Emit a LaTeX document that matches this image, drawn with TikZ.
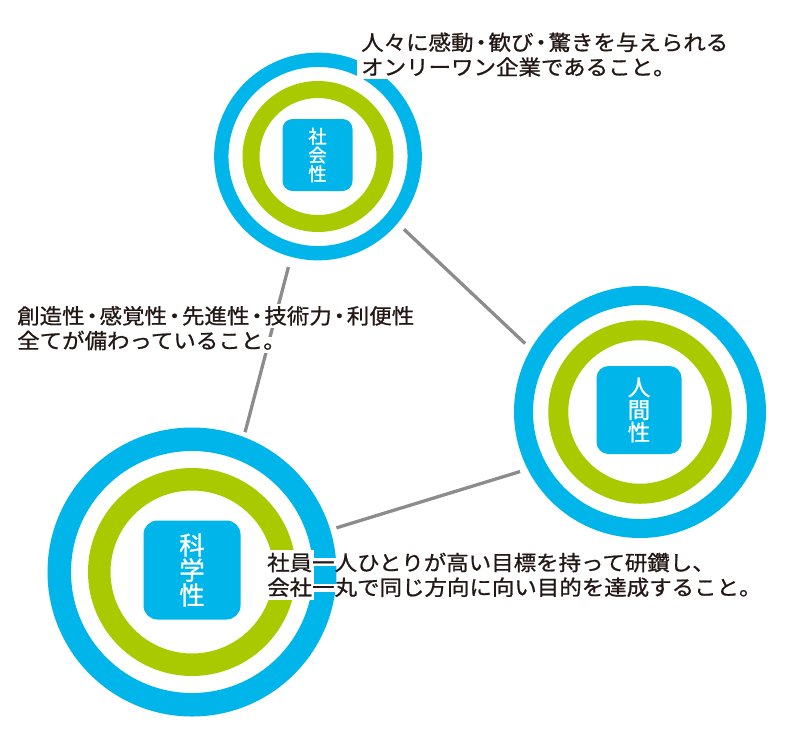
\documentclass[tikz,border=0pt]{standalone}
\usepackage{fontspec}
\newfontfamily\jp[FakeStretch=1.07,FakeBold=0.9]{Noto Sans CJK JP}
\newfontfamily\jplabel[FakeBold=0.9]{Noto Sans CJK JP}
\definecolor{ringblue}{HTML}{00B5EA}
\definecolor{ringgreen}{HTML}{AACA00}
\definecolor{linkgray}{HTML}{8C8C8C}
\definecolor{textblack}{HTML}{231815}
\newcommand\nk{\makebox[15pt][c]{・}}
\begin{document}
\begin{tikzpicture}[x=1pt,y=-1pt,
  bluering/.style={circle, draw=ringblue, inner sep=0pt},
  greenring/.style={circle, draw=ringgreen, inner sep=0pt},
  labelbox/.style={rectangle, fill=ringblue, rounded corners=#1, inner sep=0pt, text=white, align=center},
  link/.style={draw=linkgray, line width=3.3pt},
  halo/.style={fill=white},
  body/.style={font=\jp\fontsize{21}{24.7}\selectfont, text=textblack, align=left, inner sep=0pt, anchor=base west}]
\useasboundingbox (0,0) rectangle (800,732);
\fill[white] (0,0) rectangle (800,732);
% rings
\node[bluering, line width=14.3pt, minimum size=193.4pt] (A) at (318,156.5) {};
\node[greenring, line width=17pt, minimum size=134pt] (Ag) at (318,156.5) {};
\node[labelbox=10pt, minimum width=70pt, minimum height=72pt, font=\jplabel\fontsize{18.5}{18.7}\selectfont] (As) at (317.5,155) {社\\会\\性};
\node[bluering, line width=19pt, minimum size=233pt] (B) at (640,412) {};
\node[greenring, line width=20pt, minimum size=163.5pt] (Bg) at (640,412) {};
\node[labelbox=12pt, minimum width=85pt, minimum height=88pt, font=\jplabel\fontsize{22.5}{22.5}\selectfont] (Bs) at (639,410) {人\\間\\性};
\node[bluering, line width=23.5pt, minimum size=265.5pt] (C) at (192,572) {};
\node[greenring, line width=22.5pt, minimum size=185.5pt] (Cg) at (192,572) {};
\node[labelbox=14pt, minimum width=97pt, minimum height=99pt, font=\jplabel\fontsize{25.5}{25}\selectfont] (Cs) at (192,570) {科\\学\\性};
% connectors
\draw[link, shorten <=10.6pt, shorten >=5.1pt] (A.255) -- (C.69.7);
\draw[link, shorten <=8.8pt, shorten >=8pt] (A.-40.7) -- (B.150.5);
\draw[link, shorten <=6.5pt, shorten >=8pt] (C.17.5) -- (B.207.5);
% white halos behind the texts
\fill[halo] (357,53) rectangle (680,79);
\fill[halo] (15,304) rectangle (418,328);
\fill[halo] (15,329) rectangle (265,353);
\fill[halo] (265,337) rectangle (282,353);
\fill[halo] (264,550) rectangle (313.5,600);
\fill[halo] (313,558) rectangle (337,566);
\fill[halo] (313,583.5) rectangle (337,591.5);
% texts (base anchor = baseline of the last line)
\node[body] (tA) at (361,75) {人々に感動\nk 歓び\nk 驚きを与えられる\\オンリーワン企業であること。};
\node[body] (tL) at (17,348.5) {創造性\nk 感覚性\nk 先進性\nk 技術力\nk 利便性\\全てが備わっていること。};
\node[body] (tC) at (267,595.2) {社員一人ひとりが高い目標を持って研鑽し、\\会社一丸で同じ方向に向い目的を達成すること。};
\end{tikzpicture}
\end{document}
